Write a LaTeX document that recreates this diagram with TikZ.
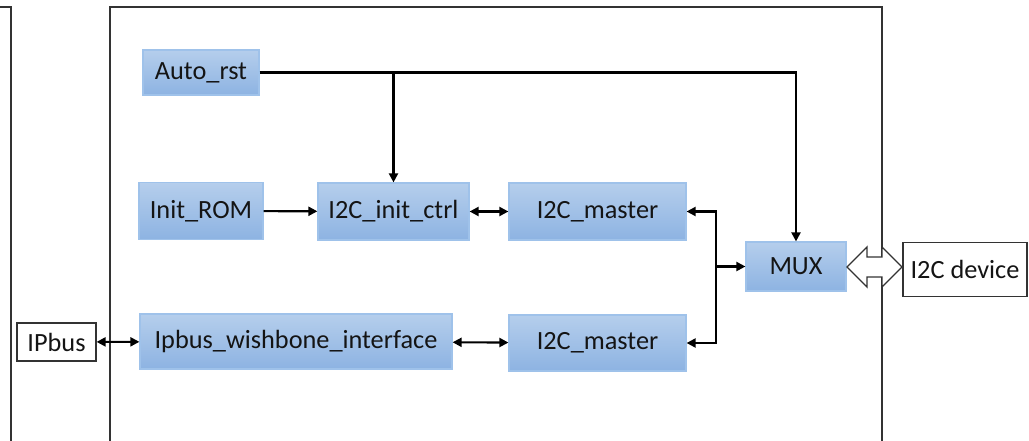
\documentclass[tikz,border=0pt]{standalone}
\usepackage{fontspec}
\setmainfont{Carlito}
\usetikzlibrary{arrows.meta}
\definecolor{boxtop}{HTML}{B5CEEC}
\definecolor{boxbot}{HTML}{8DB3E2}
\definecolor{boxline}{HTML}{9FC2EA}
\definecolor{txt}{HTML}{141414}
\definecolor{frame}{HTML}{333333}
\tikzset{
  blk/.style={rectangle, draw=boxline, line width=1.2pt, top color=boxtop, bottom color=boxbot,
    inner sep=0pt, text=txt, font=\fontsize{26.3}{30}\selectfont},
  ext/.style={rectangle, draw=frame, line width=1.2pt, fill=white, inner sep=0pt, text=txt,
    font=\fontsize{26.3}{30}\selectfont},
  conn/.style={line width=2.1pt, draw=black, arrows={-Triangle[length=9pt,width=9pt]}},
  bconn/.style={line width=2.1pt, draw=black, arrows={Triangle[length=9pt,width=9pt]-Triangle[length=9pt,width=9pt]}},
  framel/.style={line width=1.4pt, draw=frame}
}
\begin{document}
\begin{tikzpicture}[x=1pt,y=-1pt]
\useasboundingbox (0,0) rectangle (1029,441);
\fill[white] (0,0) rectangle (1029,441);
% frames
\draw[framel] (0,7) -- (11,7) -- (11,450);
\draw[framel] (110,450) -- (110,7) -- (882,7) -- (882,450);
% blocks
\node[blk, minimum width=116pt, minimum height=45pt] (auto) at (201,72.5) {Auto\_rst};
\node[blk, minimum width=124pt, minimum height=57pt] (rom) at (201,211) {Init\_ROM};
\node[blk, minimum width=151pt, minimum height=57pt] (init) at (393.5,211.5) {I2C\_init\_ctrl};
\node[blk, minimum width=177pt, minimum height=57pt] (m1) at (597.5,211.5) {I2C\_master};
\node[blk, minimum width=100pt, minimum height=49pt] (mux) at (796,266.5) {MUX};
\node[blk, minimum width=312pt, minimum height=55pt] (ipw) at (296,341.5) {Ipbus\_wishbone\_interface};
\node[blk, minimum width=177pt, minimum height=56pt] (m2) at (597.5,343) {I2C\_master};
\node[ext, minimum width=79pt, minimum height=38pt] (ipbus) at (56.5,342) {IPbus};
\node[ext, minimum width=124pt, minimum height=54pt] (dev) at (965,269.5) {I2C device};
% connectors
\coordinate (j1) at (auto.east -| init.north);
\draw[conn] (auto.east) -| (mux.north);
\draw[conn] (j1) -- (init.north);
\draw[conn] (rom) -- (init);
\draw[bconn] (init) -- (m1);
\draw[bconn] (ipbus) -- (ipw);
\draw[bconn] (ipw) -- (m2);
\coordinate (bus) at (716,0 |- mux.west);
\draw[conn] (bus) |- (m1.east);
\draw[conn] (bus) |- (m2.east);
\draw[conn] (bus) -- (mux.west);
% block double arrow
\draw[line width=1.3pt, draw=frame, fill=white, line join=miter]
  (847,267) -- (867,247) -- (867,257) -- (882,257) -- (882,247) -- (902,267)
  -- (882,287) -- (882,277) -- (867,277) -- (867,287) -- cycle;
\end{tikzpicture}
\end{document}
